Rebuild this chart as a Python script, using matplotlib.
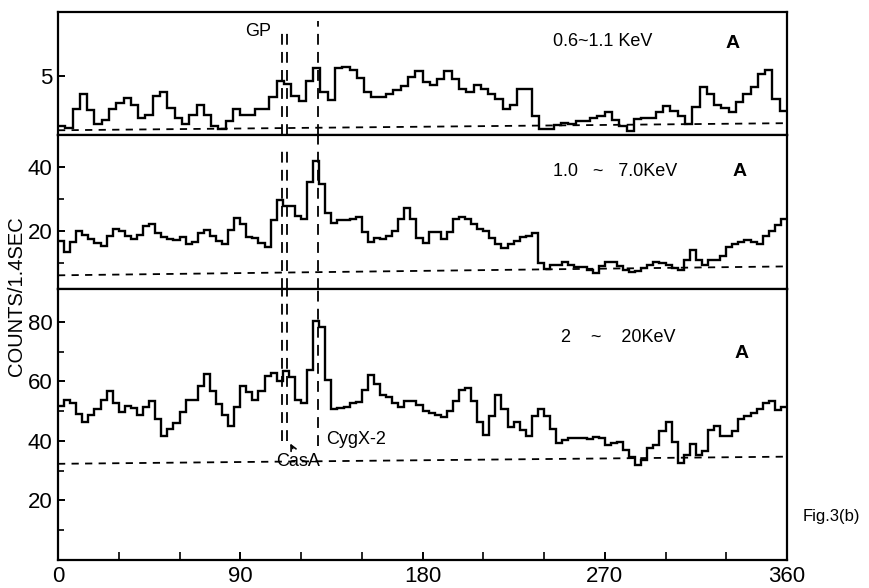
import numpy as np
import matplotlib
matplotlib.use("Agg")
import matplotlib.pyplot as plt

plt.rcParams['font.family'] = ['Liberation Sans', 'DejaVu Sans']

# counts per bin (scan angle 0..360 deg)
low_band = [0.78, 0.57, 2.2, 3.45, 2.15, 0.95, 1.3, 2.2, 2.7, 3.1,
            2.5, 1.45, 1.7, 3.3, 3.65, 2.3, 1.45, 0.95, 1.7, 2.5,
            1.7, 0.78, 0.5, 1.15, 2.2, 1.65, 1.65, 2.2, 2.2, 3.25,
            4.6, 4.3, 3.3, 2.87, 4.6, 5.66, 3.6, 3.0, 5.66, 5.75,
            5.46, 4.8, 3.6, 3.2, 3.2, 3.45, 3.8, 4.17, 4.9, 5.4,
            4.45, 4.2, 4.75, 5.4, 4.75, 3.9, 3.6, 4.2, 3.9, 3.45,
            3.07, 2.2, 2.5, 3.9, 3.9, 1.58, 0.5, 0.5, 0.86, 1.0,
            0.95, 1.15, 1.15, 1.44, 1.64, 1.92, 1.29, 0.78, 0.37, 1.35,
            1.44, 1.44, 1.92, 2.44, 2.01, 1.58, 0.95, 2.39, 4.02, 3.5,
            2.5, 2.3, 1.92, 2.79, 3.45, 4.02, 5.17, 5.46, 3.07, 2.01]

mid_band = [16.8, 13.4, 16.5, 20, 18.9, 17.4, 16.3, 15.3, 18.6, 20.8,
            20, 18.6, 17.4, 18.9, 21.6, 22.1, 19.5, 18.2, 17.4, 17.2,
            18.2, 15.8, 16.5, 19.3, 20.3, 18.6, 16.8, 15.8, 20.3, 24.2,
            22.1, 18.2, 17.9, 16.3, 15.1, 23.5, 29.8, 27.9, 27.9, 24.7,
            23.9, 35.3, 42.1, 34.7, 25.6, 22.6, 23.5, 23.5, 23.9, 24.5,
            19.7, 16.5, 17.9, 17.6, 18.6, 20, 23.9, 27.4, 23.9, 17.9,
            16.3, 19.7, 19.7, 17.6, 19.7, 23.7, 24.5, 23.9, 22.1, 20.7,
            20, 17.9, 15.8, 14.7, 15.8, 16.8, 18.2, 18.6, 19.5, 10,
            8.1, 9.5, 9.5, 10.2, 9.5, 8.7, 8.7, 7.9, 6.8, 8.9,
            10.2, 10.2, 8.9, 7.7, 7.1, 7.4, 8.4, 9.5, 10.2, 10,
            9.2, 8.4, 7.9, 10.8, 14, 10.8, 9.5, 10.8, 10.8, 12.1,
            15, 15.8, 16.5, 17.2, 16.5, 15.8, 18.6, 20, 21.8, 23.9]

high_band = [51.7, 53.7, 52.6, 49, 46.5, 48.7, 50.7, 53.7, 56.6, 52.6,
             49.6, 51.7, 51.2, 48.7, 51.5, 53.4, 47.2, 41.7, 44.1, 46.1,
             49.6, 53.7, 53.7, 58.3, 62.4, 56.6, 52.3, 48.7, 45, 51.5,
             58.5, 56.3, 53.7, 56.6, 61.7, 62.8, 60.2, 63.5, 61.5, 53.7,
             52.8, 63.9, 80.2, 78.4, 60.4, 50.7, 50.9, 51.5, 52.6, 53,
             57, 62.1, 59.1, 55.5, 54.8, 52.6, 51.5, 53.4, 53.4, 52,
             50.1, 49.3, 48.7, 47.9, 50.1, 53.4, 57.2, 57.7, 53.4, 46.3,
             42, 48.3, 55.5, 50.7, 44.7, 46.3, 43.6, 41.7, 48.3, 50.7,
             48.3, 44.1, 39.2, 40.3, 41.1, 41.1, 41.1, 40.7, 41.4, 41.1,
             38.5, 39.2, 39.6, 37.1, 34.6, 32, 33.5, 37.6, 38.7, 43.3,
             46.3, 39.6, 32.7, 35.4, 38.9, 35.4, 36.5, 43.6, 45, 41.7,
             41.7, 43.3, 47.2, 48.3, 49.3, 50.7, 52.6, 53.4, 50.4, 51.5]

# background levels (dashed), at 0 and 360 deg
bg_x = [0, 360]
bg_low = [0.4, 1.0]
bg_mid = [6.1, 8.9]
bg_high = [32.3, 34.7]

gp_pos = [110.5, 113.0]
cyg_pos = 128.3

W, H = 870, 588
fig = plt.figure(figsize=(8.7, 5.88), dpi=100)


def fx(x):
    return x / W


def fy(y):
    return 1 - y / H


L, R = 58, 787
ax1 = fig.add_axes([fx(L), fy(135), fx(R) - fx(L), (135 - 12) / H])
ax2 = fig.add_axes([fx(L), fy(289), fx(R) - fx(L), (289 - 135) / H])
ax3 = fig.add_axes([fx(L), fy(560), fx(R) - fx(L), (560 - 289) / H])

panels = [(ax1, low_band, bg_low, (0, 10.4)),
          (ax2, mid_band, bg_mid, (1.8, 50.2)),
          (ax3, high_band, bg_high, (0, 91))]

for ax, vals, bg, lim in panels:
    edges = np.linspace(0, 360, len(vals) + 1)
    ax.stairs(vals, edges, baseline=None, color='black', lw=1.7)
    ax.plot(bg_x, bg, color='black', lw=1.3, ls=(0, (4, 3.5)))
    ax.set_xlim(0, 360)
    ax.set_ylim(*lim)
    for s in ax.spines.values():
        s.set_linewidth(1.6)
    ax.tick_params(direction='in', length=5, width=1.4, labelsize=16, pad=4)
    ax.tick_params(which='minor', direction='in', length=4, width=1.2)

ax1.set_yticks([5])
ax1.set_xticks([])
ax2.set_yticks([20, 40])
ax2.set_yticks([10, 30], minor=True)
ax2.set_xticks([])
ax3.set_yticks([20, 40, 60, 80])
ax3.set_yticks([10, 30, 50, 70], minor=True)
ax3.set_xticks([0, 90, 180, 270, 360])
ax3.set_xticks([30, 60, 120, 150, 210, 240, 300, 330], minor=True)
ax3.tick_params(axis='x', which='both', length=6)

# source markers
vdash = (0, (6, 4))
for g in gp_pos:
    ax1.axvline(g, 0, 0.88, color='black', lw=1.3, ls=vdash)
    ax2.axvline(g, 0, 0.9, color='black', lw=1.3, ls=vdash)
    ax3.axvline(g, 0.44, 1, color='black', lw=1.3, ls=vdash)
ax1.axvline(cyg_pos, 0, 0.93, color='black', lw=1.3, ls=vdash)
ax2.axvline(cyg_pos, 0, 1, color='black', lw=1.3, ls=vdash)
ax3.axvline(cyg_pos, 0.42, 1, color='black', lw=1.3, ls=vdash)

# labels
fig.text(fx(258), fy(31), "GP", fontsize=13, ha='center', va='center')
fig.text(fx(553), fy(41), "0.6~1.1 KeV", fontsize=13, ha='left', va='center')
fig.text(fx(733), fy(43), "A", fontsize=14, fontweight='bold', ha='center', va='center')
fig.text(fx(553), fy(172), "1.0   ~   7.0KeV", fontsize=13, ha='left', va='center')
fig.text(fx(740), fy(172), "A", fontsize=14, fontweight='bold', ha='center', va='center')
fig.text(fx(561), fy(337), "2    ~    20KeV", fontsize=13, ha='left', va='center')
fig.text(fx(742), fy(353), "A", fontsize=14, fontweight='bold', ha='center', va='center')
fig.text(fx(326), fy(440), "CygX-2", fontsize=13, ha='left', va='center')
fig.text(fx(298), fy(461), "CasA", fontsize=13, ha='center', va='center')
fig.text(fx(831), fy(517), "Fig.3(b)", fontsize=12, ha='center', va='center')
fig.text(fx(17), fy(296), "COUNTS/1.4SEC", fontsize=14.5, rotation=90,
         ha='center', va='center')

ax3.annotate('', xy=(fx(289), fy(441)), xytext=(fx(294), fy(451)),
             xycoords='figure fraction', textcoords='figure fraction',
             arrowprops=dict(arrowstyle='->', lw=1.2, color='black'))

fig.savefig("out.png", dpi=100)
